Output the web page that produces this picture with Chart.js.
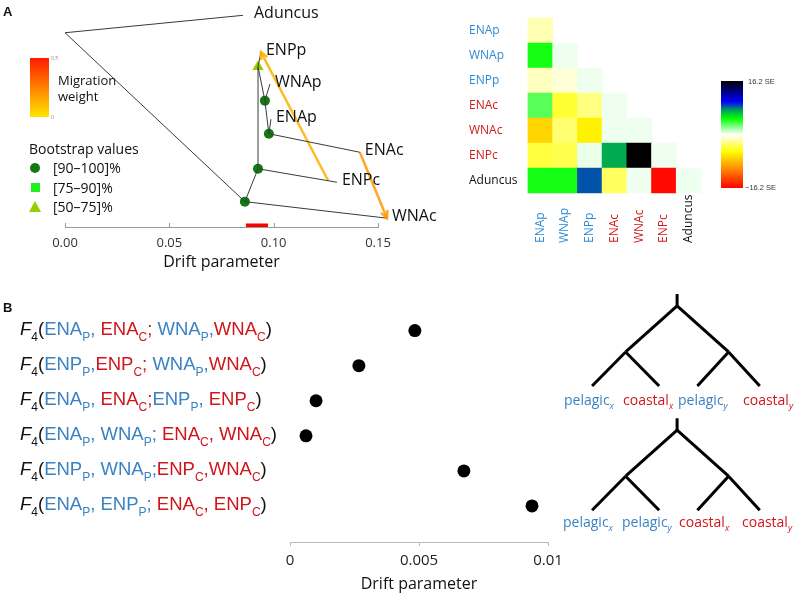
<!DOCTYPE html>
<html lang="en">
<head>
<meta charset="UTF-8">
<title>TreeMix tree, residuals and F4 statistics</title>
<script src="https://cdn.jsdelivr.net/npm/chart.js"></script>
<style>
  body { margin: 0; background: #fff; }
  #fig { position: relative; width: 796px; height: 596px; overflow: hidden; font-family: "Open Sans", sans-serif; color: #111; }
  #fig canvas { position: absolute; }
  .abs { position: absolute; white-space: nowrap; line-height: 1; }
  .panel { font-family: "Liberation Sans", Arial, sans-serif; font-weight: bold; font-size: 13px; }
  .f4 { position: absolute; left: 20px; white-space: pre; font-family: "Liberation Sans", Arial, sans-serif; font-size: 18.5px; line-height: 20px; color: #111; }
  .f4 sub { font-size: 12px; vertical-align: -6px; line-height: 0; }
  .leaf { position: absolute; white-space: nowrap; font-size: 14px; line-height: 14px; }
  .leaf sub { font-size: 9px; font-style: italic; vertical-align: -4px; line-height: 0; }
</style>
</head>
<body>
<div id="fig">
  <canvas id="treeChart" width="460" height="275" style="left:0;top:0"></canvas>
  <canvas id="resChart" width="336" height="260" style="left:460px;top:0"></canvas>
  <canvas id="f4Chart" width="310" height="306" style="left:260px;top:290px"></canvas>
  <canvas id="schemChart" width="236" height="260" style="left:560px;top:280px"></canvas>

  <div class="abs panel" style="left:3px;top:5px">A</div>
  <div class="abs panel" style="left:3px;top:301px">B</div>

  <!-- migration weight legend -->
  <div class="abs" style="left:30px;top:58px;width:19px;height:59px;background:linear-gradient(#ff1a00,#ffe600)"></div>
  <div class="abs" style="left:51px;top:56px;font-size:5px;color:#888">0.5</div>
  <div class="abs" style="left:51px;top:115px;font-size:5px;color:#888">0</div>
  <div class="abs" style="left:58px;top:72px;font-size:13px;line-height:16px">Migration<br>weight</div>

  <!-- bootstrap legend -->
  <div class="abs" style="left:29px;top:142px;font-size:14px">Bootstrap values</div>
  <div class="abs" style="left:30px;top:163px;width:10px;height:10px;border-radius:50%;background:#137a13"></div>
  <div class="abs" style="left:31px;top:183px;width:9px;height:9px;background:#1ef01e"></div>
  <div class="abs" style="left:29px;top:201px;width:0;height:0;border-left:6px solid transparent;border-right:6px solid transparent;border-bottom:11px solid #9acd00"></div>
  <div class="abs" style="left:53px;top:161px;font-size:14px">[90–100]%</div>
  <div class="abs" style="left:53px;top:181px;font-size:14px">[75–90]%</div>
  <div class="abs" style="left:53px;top:200px;font-size:14px">[50–75]%</div>

  <!-- residual colour key -->
  <div id="seKey" class="abs" style="left:721px;top:81px;width:22px;height:107px"></div>
  <div class="abs" style="left:748px;top:78px;font-size:7.5px;font-family:'Liberation Sans',Arial,sans-serif;color:#333">16.2 SE</div>
  <div class="abs" style="left:745px;top:184px;font-size:7.5px;font-family:'Liberation Sans',Arial,sans-serif;color:#333">−16.2 SE</div>

  <!-- leaf labels of the two topologies -->
  <div class="leaf" style="left:564px;top:393px;color:#3b82c4">pelagic<sub>x</sub></div>
  <div class="leaf" style="left:623px;top:393px;color:#d0151b">coastal<sub>x</sub></div>
  <div class="leaf" style="left:678px;top:393px;color:#3b82c4">pelagic<sub>y</sub></div>
  <div class="leaf" style="left:743px;top:393px;color:#d0151b">coastal<sub>y</sub></div>
  <div class="leaf" style="left:563px;top:515px;color:#3b82c4">pelagic<sub>x</sub></div>
  <div class="leaf" style="left:622px;top:515px;color:#3b82c4">pelagic<sub>y</sub></div>
  <div class="leaf" style="left:679px;top:515px;color:#d0151b">coastal<sub>x</sub></div>
  <div class="leaf" style="left:742px;top:515px;color:#d0151b">coastal<sub>y</sub></div>
</div>

<script>
// ---------- data: TreeMix tree ----------
const treeNodes  = ['root', 'Aduncus', 'n1', 'WNAc', 'n2', 'ENPc', 'n3', 'ENPp', 'n4', 'WNAp', 'n5', 'ENAp', 'ENAc'];
const treeDrift  = [0, 0.0853, 0.0862, 0.1543, 0.0925, 0.1303, 0.0925, 0.0939, 0.0958, 0.0982, 0.0977, 0.0987, 0.1413];
const treeLevel  = [0.881, 0.960, 0.115, 0.040, 0.264, 0.203, 0.727, 0.793, 0.573, 0.648, 0.423, 0.489, 0.339];
const treeParent = [null, 'root', 'root', 'n1', 'n1', 'n2', 'n2', 'n3', 'n3', 'n4', 'n4', 'n5', 'n5'];
const tipNames   = ['Aduncus', 'WNAc', 'ENPc', 'ENPp', 'WNAp', 'ENAp', 'ENAc'];
const bootNodes  = ['n1', 'n2', 'n3', 'n4', 'n5'];
const bootClass  = ['90-100', '90-100', '50-75', '90-100', '90-100'];
const migSource  = ['ENPc', 'ENAc'];
const migTarget  = ['ENPp', 'WNAc'];
const migAlong   = [0.89, 1.0];
const migWeight  = [0.12, 0.17];
const seBar      = [0.0867, 0.0973];
const driftTicks = [0, 0.05, 0.10, 0.15];

// ---------- data: residual matrix (SE units, lower triangle) ----------
const popNames  = ['ENAp', 'WNAp', 'ENPp', 'ENAc', 'WNAc', 'ENPc', 'Aduncus'];
const popGroup  = ['p', 'p', 'p', 'c', 'c', 'c', 'out'];
const residuals = [
  [-1.6],
  [4.5, 0.3],
  [-1.3, -0.8, 0.3],
  [3.2, -4.2, -2.6, 0.3],
  [-7.1, -2.9, -5.8, 0.3, 0.3],
  [-3.9, -3.6, 0.4, 7.1, 16.2, 0.3],
  [4.5, 4.5, 8.6, -3.3, 0.3, -15.8, 0.3]
];

// ---------- data: F4 statistics ----------
const f4Values = [0.00484, 0.00267, 0.00101, 0.00062, 0.00674, 0.00938];
const f4Pops = [
  [['ENA', 'P'], ['ENA', 'C'], ['WNA', 'P'], ['WNA', 'C']],
  [['ENP', 'P'], ['ENP', 'C'], ['WNA', 'P'], ['WNA', 'C']],
  [['ENA', 'P'], ['ENA', 'C'], ['ENP', 'P'], ['ENP', 'C']],
  [['ENA', 'P'], ['WNA', 'P'], ['ENA', 'C'], ['WNA', 'C']],
  [['ENP', 'P'], ['WNA', 'P'], ['ENP', 'C'], ['WNA', 'C']],
  [['ENA', 'P'], ['ENP', 'P'], ['ENA', 'C'], ['ENP', 'C']]
];
const f4Seps = [
  [', ', '; ', ','], [',', '; ', ','], [', ', ';', ', '],
  [', ', '; ', ', '], [', ', ';', ','], [', ', '; ', ', ']
];
const f4Ticks    = [0, 0.005, 0.01];
const f4TickText = ['0', '0.005', '0.01'];

// ---------- colours ----------
const BLUE = '#3b82c4', RED = '#d0151b';
const groupColor = { p: '#2f8ad4', c: '#d01a1a', out: '#111' };
const seStops = [[-16.2, [255, 0, 0]], [-10.8, [255, 128, 0]], [-5.2, [255, 255, 0]], [0, [255, 255, 255]],
                 [4.9, [0, 255, 0]], [7.4, [0, 160, 90]], [9.9, [0, 0, 255]], [13.3, [0, 0, 120]], [16.2, [0, 0, 0]]];

function seColor(v) {
  for (let i = 1; i < seStops.length; i++) {
    if (v <= seStops[i][0]) {
      const [v0, c0] = seStops[i - 1], [v1, c1] = seStops[i];
      const t = Math.max(0, (v - v0) / (v1 - v0));
      return 'rgb(' + c0.map((c, k) => Math.round(c + (c1[k] - c) * t)).join(',') + ')';
    }
  }
  return 'rgb(0,0,0)';
}
function migColor(w) {
  const g = Math.round(230 * (1 - Math.min(w / 0.5, 1)));
  return 'rgba(255,' + g + ',0,0.85)';
}

document.getElementById('seKey').style.background = 'linear-gradient(to top,' +
  seStops.map(s => seColor(s[0]) + ' ' + ((s[0] + 16.2) / 32.4 * 100).toFixed(1) + '%').join(',') + ')';

Chart.defaults.font.family = '"Open Sans", sans-serif';
Chart.defaults.color = '#222';

// ---------- A: tree ----------
const ni = n => treeNodes.indexOf(n);
const pt = n => ({ x: treeDrift[ni(n)], y: treeLevel[ni(n)] });

const treeSets = [];
treeNodes.forEach((n, i) => {
  if (!treeParent[i]) return;
  treeSets.push({ data: [pt(treeParent[i]), pt(n)], showLine: true, borderColor: '#3a3a3a',
                  borderWidth: 1, pointRadius: 0, clip: false });
});
migSource.forEach((s, i) => {
  const a = pt(treeParent[ni(s)]), b = pt(s), t = migAlong[i];
  treeSets.push({ data: [{ x: a.x + (b.x - a.x) * t, y: a.y + (b.y - a.y) * t }, pt(migTarget[i])],
                  showLine: true, borderColor: migColor(migWeight[i]), borderWidth: 2.5,
                  pointRadius: 0, clip: false, arrow: true });
});
treeSets.push({ data: seBar.map(x => ({ x, y: 0.008 })), showLine: true, borderColor: '#ff0000',
                borderWidth: 3.5, pointRadius: 0, clip: false });
const bootStyle = { '90-100': ['circle', '#137a13', 5], '75-90': ['rect', '#1ef01e', 6], '50-75': ['triangle', '#9acd00', 6.5] };
treeSets.push({ data: bootNodes.map(pt), pointStyle: bootClass.map(c => bootStyle[c][0]),
                pointBackgroundColor: bootClass.map(c => bootStyle[c][1]), pointBorderWidth: 0,
                pointRadius: bootClass.map(c => bootStyle[c][2]), clip: false });

const treeDecor = {
  id: 'treeDecor',
  afterDatasetsDraw(chart) {
    const { ctx, scales: { x, y } } = chart;
    ctx.save();
    chart.data.datasets.forEach((ds, i) => {
      if (!ds.arrow) return;
      const pts = chart.getDatasetMeta(i).data;
      const p0 = pts[0], p1 = pts[1];
      const ang = Math.atan2(p1.y - p0.y, p1.x - p0.x);
      ctx.strokeStyle = ds.borderColor; ctx.lineWidth = 2.5;
      ctx.beginPath();
      ctx.moveTo(p1.x - 8 * Math.cos(ang - 0.45), p1.y - 8 * Math.sin(ang - 0.45));
      ctx.lineTo(p1.x, p1.y);
      ctx.lineTo(p1.x - 8 * Math.cos(ang + 0.45), p1.y - 8 * Math.sin(ang + 0.45));
      ctx.stroke();
    });
    ctx.fillStyle = '#111';
    ctx.font = '16px "Open Sans"';
    ctx.textBaseline = 'middle';
    tipNames.forEach(n => {
      const p = pt(n);
      ctx.fillText(n, x.getPixelForValue(p.x) + (n === 'Aduncus' ? 11 : 5), y.getPixelForValue(p.y) - 2);
    });
    ctx.strokeStyle = '#999'; ctx.lineWidth = 1;
    driftTicks.forEach(v => {
      const px = Math.round(x.getPixelForValue(v)) + 0.5;
      ctx.beginPath(); ctx.moveTo(px, y.bottom); ctx.lineTo(px, y.bottom - 4); ctx.stroke();
    });
    ctx.restore();
  }
};

new Chart(document.getElementById('treeChart'), {
  type: 'scatter',
  data: { datasets: treeSets },
  options: {
    responsive: false, animation: false,
    layout: { padding: { left: 65, right: 82, top: 0, bottom: 0 } },
    plugins: { legend: { display: false }, tooltip: { enabled: false } },
    scales: {
      x: {
        min: 0, max: 0.15,
        afterBuildTicks: s => { s.ticks = driftTicks.map(v => ({ value: v })); },
        afterFit: s => { s.height = 48; },
        grid: { display: false, drawTicks: false },
        border: { display: true, color: '#999' },
        ticks: { padding: 8, font: { size: 13 }, color: '#333', callback: v => v.toFixed(2) },
        title: { display: true, text: 'Drift parameter', font: { size: 16 }, color: '#111', padding: { top: 0, bottom: 3 } }
      },
      y: { display: false, min: 0, max: 1 }
    }
  },
  plugins: [treeDecor]
});

// ---------- A: residual heatmap ----------
const cells = [];
residuals.forEach((row, r) => row.forEach((v, c) => cells.push({ x: popNames[c], y: popNames[r], v })));

const colLabels = {
  id: 'colLabels',
  afterDraw(chart) {
    const { ctx, scales: { x } } = chart;
    ctx.save();
    ctx.font = '12px "Open Sans"';
    ctx.textAlign = 'left'; ctx.textBaseline = 'middle';
    popNames.forEach((n, i) => {
      ctx.save();
      ctx.translate(x.getPixelForValue(i), 243);
      ctx.rotate(-Math.PI / 2);
      ctx.fillStyle = groupColor[popGroup[i]];
      ctx.fillText(n, 0, 0);
      ctx.restore();
    });
    ctx.restore();
  }
};

new Chart(document.getElementById('resChart'), {
  type: 'scatter',
  data: { datasets: [{
    data: cells, pointStyle: 'rect', pointRadius: 18, pointHoverRadius: 18, pointBorderWidth: 0,
    pointBackgroundColor: c => c.raw ? seColor(c.raw.v) : '#fff'
  }] },
  options: {
    responsive: false, animation: false,
    layout: { padding: { left: 9, top: 14, right: 95, bottom: 67 } },
    plugins: { legend: { display: false }, tooltip: { enabled: false } },
    scales: {
      x: { type: 'category', labels: popNames, offset: true, display: false },
      y: {
        type: 'category', labels: popNames, offset: true,
        afterFit: s => { s.width = 59; },
        grid: { display: false, drawTicks: false }, border: { display: false },
        ticks: { crossAlign: 'far', padding: 0, font: { size: 12 }, color: c => groupColor[popGroup[c.index]] }
      }
    }
  },
  plugins: [colLabels]
});

// ---------- B: F4 dot plot ----------
const f4Chart = new Chart(document.getElementById('f4Chart'), {
  type: 'scatter',
  data: { datasets: [{
    data: f4Values.map((v, i) => ({ x: v, y: i })),
    pointRadius: 6.5, pointBackgroundColor: '#000', pointBorderWidth: 0
  }] },
  options: {
    responsive: false, animation: false,
    layout: { padding: { left: 30, right: 22, top: 0, bottom: 0 } },
    plugins: { legend: { display: false }, tooltip: { enabled: false } },
    scales: {
      x: {
        min: 0, max: 0.01,
        afterBuildTicks: s => { s.ticks = f4Ticks.map(v => ({ value: v })); },
        afterFit: s => { s.height = 54; },
        grid: { drawOnChartArea: false, drawTicks: true, tickLength: 4, color: '#bbb' },
        border: { display: true, color: '#bbb' },
        ticks: { padding: 6, font: { size: 15 }, color: '#222', callback: (v, i) => f4TickText[i] },
        title: { display: true, text: 'Drift parameter', font: { size: 16 }, color: '#111', padding: { top: 0, bottom: 2 } }
      },
      y: { display: false, reverse: true, min: -35 / 36, max: 217 / 36 }
    }
  }
});

// F4 row labels, aligned to the dot rows
const figEl = document.getElementById('fig');
f4Pops.forEach((pops, i) => {
  const d = document.createElement('div');
  d.className = 'f4';
  d.style.top = (290 + f4Chart.scales.y.getPixelForValue(i) - 12) + 'px';
  let h = '<i>F</i><sub>4</sub>(';
  pops.forEach((p, j) => {
    const col = p[1] === 'P' ? BLUE : RED;
    h += '<span style="color:' + col + '">' + p[0] + '<sub>' + p[1] + '</sub>' + (j < 3 ? f4Seps[i][j] : '') + '</span>';
  });
  d.innerHTML = h + ')';
  figEl.appendChild(d);
});

// ---------- B: the two expected topologies ----------
const leafX = [0, 1, 1.57, 2.5];
const treeDepth = { stem: -0.26, root: 0, inner: 1, leaf: 1.74 };
const treeShift = [0, 2.7];
const schemSets = [];
treeShift.forEach(dy => {
  const L = { x: (leafX[0] + leafX[1]) / 2, y: treeDepth.inner + dy };
  const R = { x: (leafX[2] + leafX[3]) / 2, y: treeDepth.inner + dy };
  const root = { x: (L.x + R.x) / 2, y: treeDepth.root + dy };
  const segs = [
    [{ x: root.x, y: treeDepth.stem + dy }, root],
    [root, L], [root, R],
    [L, { x: leafX[0], y: treeDepth.leaf + dy }], [L, { x: leafX[1], y: treeDepth.leaf + dy }],
    [R, { x: leafX[2], y: treeDepth.leaf + dy }], [R, { x: leafX[3], y: treeDepth.leaf + dy }]
  ];
  segs.forEach(s => schemSets.push({ data: s, showLine: true, borderColor: '#000', borderWidth: 3,
                                     pointRadius: 0, clip: false, borderCapStyle: 'butt' }));
});

new Chart(document.getElementById('schemChart'), {
  type: 'scatter',
  data: { datasets: schemSets },
  options: {
    responsive: false, animation: false,
    layout: { padding: 0 },
    plugins: { legend: { display: false }, tooltip: { enabled: false } },
    scales: {
      x: { display: false, min: -0.478, max: 3.04 },
      y: { display: false, reverse: true, min: -0.565, max: 5.087 }
    }
  }
});
</script>
</body>
</html>
